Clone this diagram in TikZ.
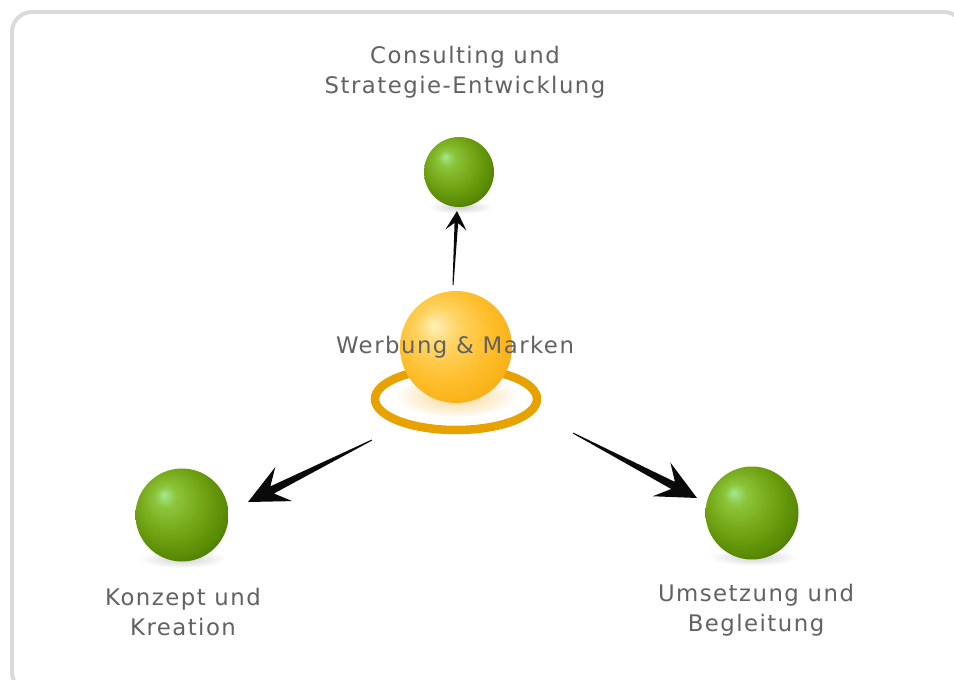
\documentclass[tikz,border=0pt]{standalone}
\usepackage{fontspec}
\setmainfont{DejaVu Sans}
\newfontfamily\lblfont[LetterSpace=6.5]{DejaVu Sans}
\usetikzlibrary{calc}
\definecolor{txtcol}{HTML}{626262}
\definecolor{framecol}{HTML}{DADADA}
\definecolor{ringcol}{HTML}{E8A200}
\definecolor{glight}{HTML}{A2E890}
\definecolor{gmid}{HTML}{8CC43A}
\definecolor{gbody}{HTML}{72A414}
\definecolor{gdark}{HTML}{588A04}
\definecolor{gedge}{HTML}{427000}
\definecolor{olight}{HTML}{FFF0B8}
\definecolor{omid}{HTML}{FFD464}
\definecolor{obody}{HTML}{FFBE2C}
\definecolor{odark}{HTML}{F8B014}
\definecolor{arrowcol}{HTML}{0A0A0A}
\pgfdeclareradialshading{greenball}{\pgfpoint{-10bp}{11bp}}{color(0bp)=(glight); color(6bp)=(gmid); color(18bp)=(gbody); color(28bp)=(gdark); color(34bp)=(gedge); color(50bp)=(gedge)}
\pgfdeclareradialshading{orangeball}{\pgfpoint{-10bp}{10bp}}{color(0bp)=(olight); color(9bp)=(omid); color(21bp)=(obody); color(31bp)=(odark); color(50bp)=(odark)}
\tikzset{
  gball/.style={circle, inner sep=0pt, shading=greenball},
  oball/.style={circle, inner sep=0pt, shading=orangeball},
  lbl/.style={align=center, text=txtcol, font=\lblfont\fontsize{22.8pt}{29.5pt}\selectfont, inner sep=0pt},
  shadowsty/.style={inner color=black!18, outer color=white}
}
\newcommand{\tarrow}[6]{% tail, tip, head length, head half width, notch distance, shaft half width
  \coordinate (tA) at ($(#2)!#3!(#1)$);
  \coordinate (tN) at ($(#2)!#5!(#1)$);
  \fill[arrowcol] (#2) -- ($(tA)!#4!90:(#1)$) -- ($(tN)!#6!90:(#1)$)
    -- ($(#1)!0.5pt!-90:(#2)$) -- ($(#1)!0.5pt!90:(#2)$)
    -- ($(tN)!#6!-90:(#1)$) -- ($(tA)!#4!-90:(#1)$) -- cycle;
}
\begin{document}
\begin{tikzpicture}[x=1pt,y=-1pt]
\useasboundingbox (0,0) rectangle (954,680);
\fill[white] (0,0) rectangle (954,680);
\draw[framecol, line width=4pt, rounded corners=20pt] (12,12) rectangle (964,692);

% shadows under spheres
\shade[shadowsty] (460,207) ellipse [x radius=32pt, y radius=7pt];
\shade[shadowsty] (183,559) ellipse [x radius=44pt, y radius=9pt];
\shade[shadowsty] (753,557) ellipse [x radius=44pt, y radius=9pt];

% ring around the centre sphere
\shade[inner color=ringcol!45, outer color=white] (456,396) ellipse [x radius=62pt, y radius=22pt];
\draw[ringcol, line width=8.5pt] (456,399) ellipse [x radius=81pt, y radius=31pt];

% spheres
\node[oball, minimum size=112pt] (wer) at (456,347) {};
\node[gball, minimum size=70pt] (con) at (459,172) {};
\node[gball, minimum size=93pt] (kon) at (182,515) {};
\node[gball, minimum size=93pt] (ums) at (752,513) {};

% arrow end points
\coordinate (upT) at (453,285);
\coordinate (upH) at (457,211);
\coordinate (lfT) at (372,440);
\coordinate (lfH) at (248,502);
\coordinate (rtT) at (573,433);
\coordinate (rtH) at (697,498);

\tarrow{upT}{upH}{19pt}{10.5pt}{12pt}{1.8pt}
\tarrow{lfT}{lfH}{40pt}{19pt}{27pt}{4pt}
\tarrow{rtT}{rtH}{40pt}{19pt}{27pt}{4pt}

% labels
\node[lbl] (tcon) at (465,72) {Consulting und\\Strategie-Entwicklung};
\node[lbl] (twer) at (455,347) {Werbung \& Marken};
\node[lbl] (tkon) at (183,612) {Konzept und\\Kreation};
\node[lbl] (tums) at (756,610) {Umsetzung und\\Begleitung};
\end{tikzpicture}
\end{document}
